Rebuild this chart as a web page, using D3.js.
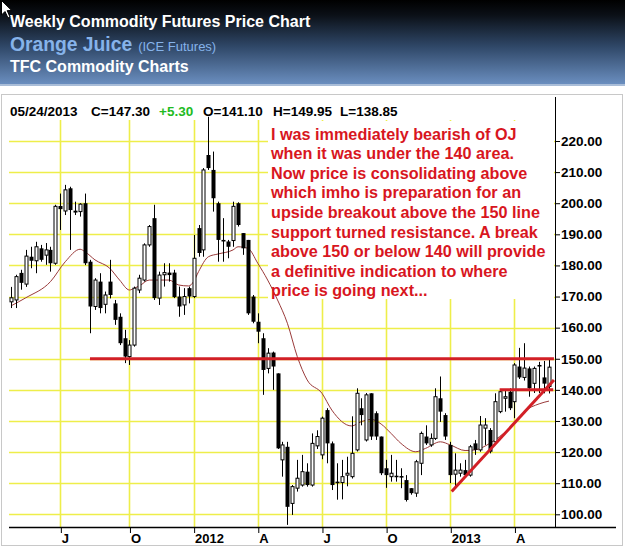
<!DOCTYPE html>
<html><head><meta charset="utf-8">
<script src="https://cdn.jsdelivr.net/npm/d3@7"></script>
<style>html,body{margin:0;padding:0;background:#fff;}svg{display:block;}</style>
</head><body>
<svg id="c" width="625" height="547"></svg>
<script>
// ---------- DATA ----------
const firstWeek = "2011-04-22";           // first weekly bar (Friday)
const lastWeek  = "2013-05-24";           // last weekly bar
const opens = [168.3,168.9,177.6,174,182.8,181.5,185.5,183.3,185,180.7,
199.1,197.5,204.8,197.6,197.3,200,181.2,166.8,174.8,167.5,
174.8,167.8,163.5,156.6,150.7,154.4,172.1,175.3,186.6,195.2,
169.5,177,177.7,177.7,170,167.3,172.7,170,192,185,
215.5,210.7,200,188.2,187.7,188,200,190.4,188.2,170,
161.9,156.6,146.9,152,145.3,117.5,121.7,103.5,108.4,109.4,
113.7,109.4,122,119.1,133.5,122.8,110.5,110.2,112.6,112.1,
120.7,134.1,123.9,138.9,132.5,125,114.8,112.1,112.4,112.3,
111,108.4,106.8,116.4,125,122.3,124.4,137.3,131.9,122.3,
112.9,113.2,114.2,112.6,122.8,120.7,127.7,127.1,123.3,133,
137.3,139.4,136.2,147.5,144,146.9,142.1,148,144,141.1];
const highs = [173.1,177,178.6,185,186,187.6,186.6,187.2,186,199.5,
203.1,205.9,205.3,200.5,200,203.1,181.8,175.9,177.5,171.6,
181.8,168.9,164.6,159.3,156,173.2,177,187.1,193,199.5,
178,180.7,180.7,178.6,173.2,172.7,173.2,189.8,193,211.3,
227.8,216.6,200.5,195.2,188.2,200.5,200.3,190.4,188.2,170.5,
164.6,158.2,153.4,152.3,145.3,123.3,123.3,109.4,117.5,119.1,
116.4,126,127,131.4,134.1,123.4,116.4,117.5,118.5,131.5,
140.5,137.3,139,138.9,133.1,125,117.5,119.1,117.5,114.8,
112.6,108.4,117.5,126.6,128.6,126,140.5,144.3,132.5,123.3,
119.6,116.4,117.5,122.3,123.9,131.6,130.9,127.7,138.9,140,
140,140.5,148.6,153.5,155,147.5,147.5,149,149.3,149.95];
const lows = [166.3,166.3,172.2,173.1,179.1,177.5,181.2,180.2,178,180.2,
191.4,196.2,185,196.2,195.7,180.1,158.2,165.7,164.6,164.6,
169.4,160.9,154.4,148.6,148,153.9,171.1,174.8,186,168.9,
167.3,173.2,174.8,169.5,163.5,164.1,167.8,169.5,182.8,182.8,
210.7,197.3,181.2,181.2,182.3,186,192.5,183.4,164.1,161.4,
155,138.4,145.3,140,121,112.1,96.6,99.8,107.3,108.9,
108.9,108.9,121,117.7,116.4,107.8,104.7,104.8,109,111.5,
120.2,128.6,123.4,123.9,123.9,112.6,108.5,110.5,110.5,108.4,
104.1,106.3,105.6,112.6,122.3,121.7,123.9,129.7,123.9,110,
108.4,112.1,112.1,112.1,119.1,120.1,122.3,119.6,122.8,132.5,
133,133.5,130.9,143.5,143,137.8,139,139,138.9,138.85];
const closes = [169.6,176.4,174.4,183,181.5,186,181.8,185,180.7,199,
198.1,204.3,197.8,197,199.7,180.7,166.8,175.3,166.3,170.5,
170.5,162.5,155,150.7,154.4,172.7,175.9,186.6,192.5,169.5,
176.9,177.7,176.9,169.8,166.8,170,170,182.3,184,210.7,
211.3,201.6,188.2,187.7,186,199,193,185.5,164.6,161.9,
158.7,146.4,151.8,147.5,121.2,122.3,102.4,108.9,111.6,113.7,
109.4,122.8,125,130.9,122.8,109.4,110,112.1,113.2,119.6,
138.9,131.9,138.4,125,125,113.2,112.6,113.2,112.1,111.8,
104.6,106.8,116.9,126,122.8,124.4,137.8,133,125,112.6,
114.2,114.2,112.6,121.7,120.7,128.7,128.7,120.1,136.2,139.4,
137.8,134.1,148,144,147,140.5,146.9,147.5,142,147.3];

// moving average (bar index, value)
const maIdx = [0,3,8,11,14,15,17,20,22,24,25,26,28,30,32,34,36,37,38,40,42,45,46,48,50,52,54,56,58,60,63,65,69,71,73,75,77,79,82,84,87,89,92,94,97,99,102,104,107,109];
const maVal = [167,169.6,174.8,181.2,185.2,184.4,181.8,179.1,175.3,172.1,172.7,173.4,175.3,175.3,175.3,173.7,173.4,174.8,178,182.8,183.7,185,186,185.5,180.7,175.3,168.9,161.4,150.7,143.2,138.9,133.5,128.4,129.8,130.5,129,126,122.8,120.1,121.2,123.3,122.3,120.5,120.7,122.8,125,129.3,133,135.5,136.4];

const xTickDates  = ["2011-07-01","2011-10-07","2012-01-06","2012-04-06","2012-07-06","2012-10-05","2013-01-04","2013-04-05"];
const xTickLabels = ["J","O","2012","A","J","O","2013","A"];
const yTicks = [100,110,120,130,140,150,160,170,180,190,200,210,220];

// hand-drawn red lines: [startDate, startPrice, endDate, endPrice]
const redLines = [
  ["2011-08-12",150,"2013-05-31",150],
  ["2013-03-15",140,"2013-05-30",140],
  ["2013-01-06",107.3,"2013-05-31",143.2]
];

const titleLines = ["Weekly Commodity Futures Price Chart","Orange Juice","(ICE Futures)","TFC Commodity Charts"];
const infoItems = [["05/24/2013","#000"],["C=147.30","#000"],["+5.30","#22bb22"],["O=141.10","#000"],["H=149.95","#000"],["L=138.85","#000"]];
const note = ["I was immediately bearish of OJ","when it was under the 140 area.","Now price is consolidating above","which imho is preparation for an","upside breakout above the 150 line","support turned resistance. A break","above 150 or below 140 will provide","a definitive indication to where","price is going next..."];

// ---------- CHART ----------
const parse = d3.timeParse("%Y-%m-%d");
const t0 = parse(firstWeek);
const dates = opens.map((_, i) => d3.timeDay.offset(t0, 7 * i));
const bars = dates.map((d, i) => ({d, o: opens[i], h: highs[i], l: lows[i], c: closes[i]}));

const svg = d3.select("#c");
const FONT = "'Liberation Sans', Arial, Helvetica, sans-serif";

const x = d3.scaleTime().domain([t0, parse(lastWeek)]).range([11, 549]);
const y = d3.scaleLinear().domain([100, 220]).range([514.3, 141]);

// header
const defs = svg.append("defs");
const g1 = defs.append("linearGradient").attr("id", "hdr").attr("x1", 0).attr("y1", 0).attr("x2", 0).attr("y2", 1);
[[0, "#000000"], [0.18, "#0b1017"], [0.55, "#2f4767"], [1, "#6a8ebf"]].forEach(s => g1.append("stop").attr("offset", s[0]).attr("stop-color", s[1]));
svg.append("rect").attr("x", 0).attr("y", 0).attr("width", 625).attr("height", 84).attr("fill", "url(#hdr)");
svg.append("rect").attr("x", 0).attr("y", 84).attr("width", 625).attr("height", 2).attr("fill", "#a9bdd8");

svg.append("text").attr("x", 10).attr("y", 27).attr("font-family", FONT).attr("font-weight", "bold").attr("font-size", 16).attr("fill", "#fff").text(titleLines[0]);
const t2 = svg.append("text").attr("x", 10).attr("y", 51).attr("font-family", FONT).attr("fill", "#86b3ea");
t2.append("tspan").attr("font-weight", "bold").attr("font-size", 19.3).text(titleLines[1]);
t2.append("tspan").attr("font-size", 13).attr("dx", 6).text(titleLines[2]);
svg.append("text").attr("x", 10).attr("y", 72).attr("font-family", FONT).attr("font-weight", "bold").attr("font-size", 16).attr("fill", "#fff").text(titleLines[3]);

// cursor artefact
svg.append("path").attr("d", "M1.5,0.5 L1.5,15 L5,11.5 L8,18 L10,17 L7.2,10.6 L11.8,10.6 Z").attr("fill", "#fff").attr("stroke", "#000").attr("stroke-width", 1);

// frame
svg.append("rect").attr("x", 1.5).attr("y", 94.5).attr("width", 621).attr("height", 451).attr("fill", "none").attr("stroke", "#c8c8c8");

// grid
const grid = svg.append("g").attr("stroke", "#eeee4a").attr("stroke-width", 1.6);
yTicks.forEach(v => grid.append("line").attr("x1", 9).attr("x2", 555).attr("y1", Math.round(y(v)) + 0.5).attr("y2", Math.round(y(v)) + 0.5));
xTickDates.forEach(s => { const xx = Math.round(x(parse(s))) + 0.5; grid.append("line").attr("x1", xx).attr("x2", xx).attr("y1", 120).attr("y2", 527); });

// annotation box (covers grid)
svg.append("rect").attr("x", 268).attr("y", 121).attr("width", 286).attr("height", 178).attr("fill", "#fff");

// moving average
svg.append("path").datum(maIdx.map((k, i) => [dates[k], maVal[i]]))
  .attr("fill", "none").attr("stroke", "#9a3a3a").attr("stroke-width", 1)
  .attr("d", d3.line().x(d => x(d[0])).y(d => y(d[1])).curve(d3.curveMonotoneX));

// candles
const cg = svg.append("g");
bars.forEach(b => {
  const cx = Math.round(x(b.d)) + 0.5;
  cg.append("line").attr("x1", cx).attr("x2", cx).attr("y1", y(b.h)).attr("y2", y(b.l)).attr("stroke", "#000").attr("stroke-width", 1);
  const top = y(Math.max(b.o, b.c)), bot = y(Math.min(b.o, b.c));
  if (b.c >= b.o) {
    cg.append("rect").attr("x", cx - 1.5).attr("y", top).attr("width", 3).attr("height", Math.max(1, bot - top)).attr("fill", "#fff").attr("stroke", "#000").attr("stroke-width", 1);
  } else {
    cg.append("rect").attr("x", cx - 2).attr("y", top).attr("width", 4).attr("height", Math.max(1.5, bot - top)).attr("fill", "#000");
  }
});

// red lines
redLines.forEach(r => svg.append("line").attr("x1", x(parse(r[0]))).attr("y1", y(r[1])).attr("x2", x(parse(r[2]))).attr("y2", y(r[3]))
  .attr("stroke", "#d21f26").attr("stroke-width", 3));

// axes
const ya = svg.append("g").attr("transform", "translate(555,0)")
  .call(d3.axisRight(y).tickValues(yTicks).tickFormat(d3.format(".2f")).tickSize(5).tickPadding(1));
ya.select(".domain").attr("d", "M0.5,97V527").attr("stroke", "#000");
ya.selectAll("text").attr("font-family", FONT).attr("font-weight", "bold").attr("font-size", 13.5).attr("fill", "#000");
svg.append("line").attr("x1", 9).attr("x2", 616).attr("y1", 527.5).attr("y2", 527.5).attr("stroke", "#000").attr("stroke-width", 1.3);
const xa = svg.append("g").attr("transform", "translate(0,527)")
  .call(d3.axisBottom(x).tickValues(xTickDates.map(parse)).tickFormat((d, i) => xTickLabels[i]).tickSize(6).tickPadding(3));
xa.select(".domain").remove();
xa.selectAll(".tick line").attr("transform", "translate(0.5,0)");
xa.selectAll("text").attr("text-anchor", "start").attr("dx", 1).attr("y", 16).attr("dy", 0)
  .attr("font-family", FONT).attr("font-weight", "bold").attr("font-size", 13).attr("fill", "#000");

// info line
const infoX = [10, 91, 159, 203, 273, 340];
infoItems.forEach((it, i) => svg.append("text").attr("x", infoX[i]).attr("y", 116).attr("font-family", FONT).attr("font-weight", "bold").attr("font-size", 13.5).attr("fill", it[1]).text(it[0]));

// annotation text
note.forEach((s, i) => svg.append("text").attr("x", 271).attr("y", 139.5 + i * 19.6).attr("font-family", FONT).attr("font-weight", "bold").attr("font-size", 16.2).attr("fill", "#d8161e").text(s));
</script>
</body></html>
